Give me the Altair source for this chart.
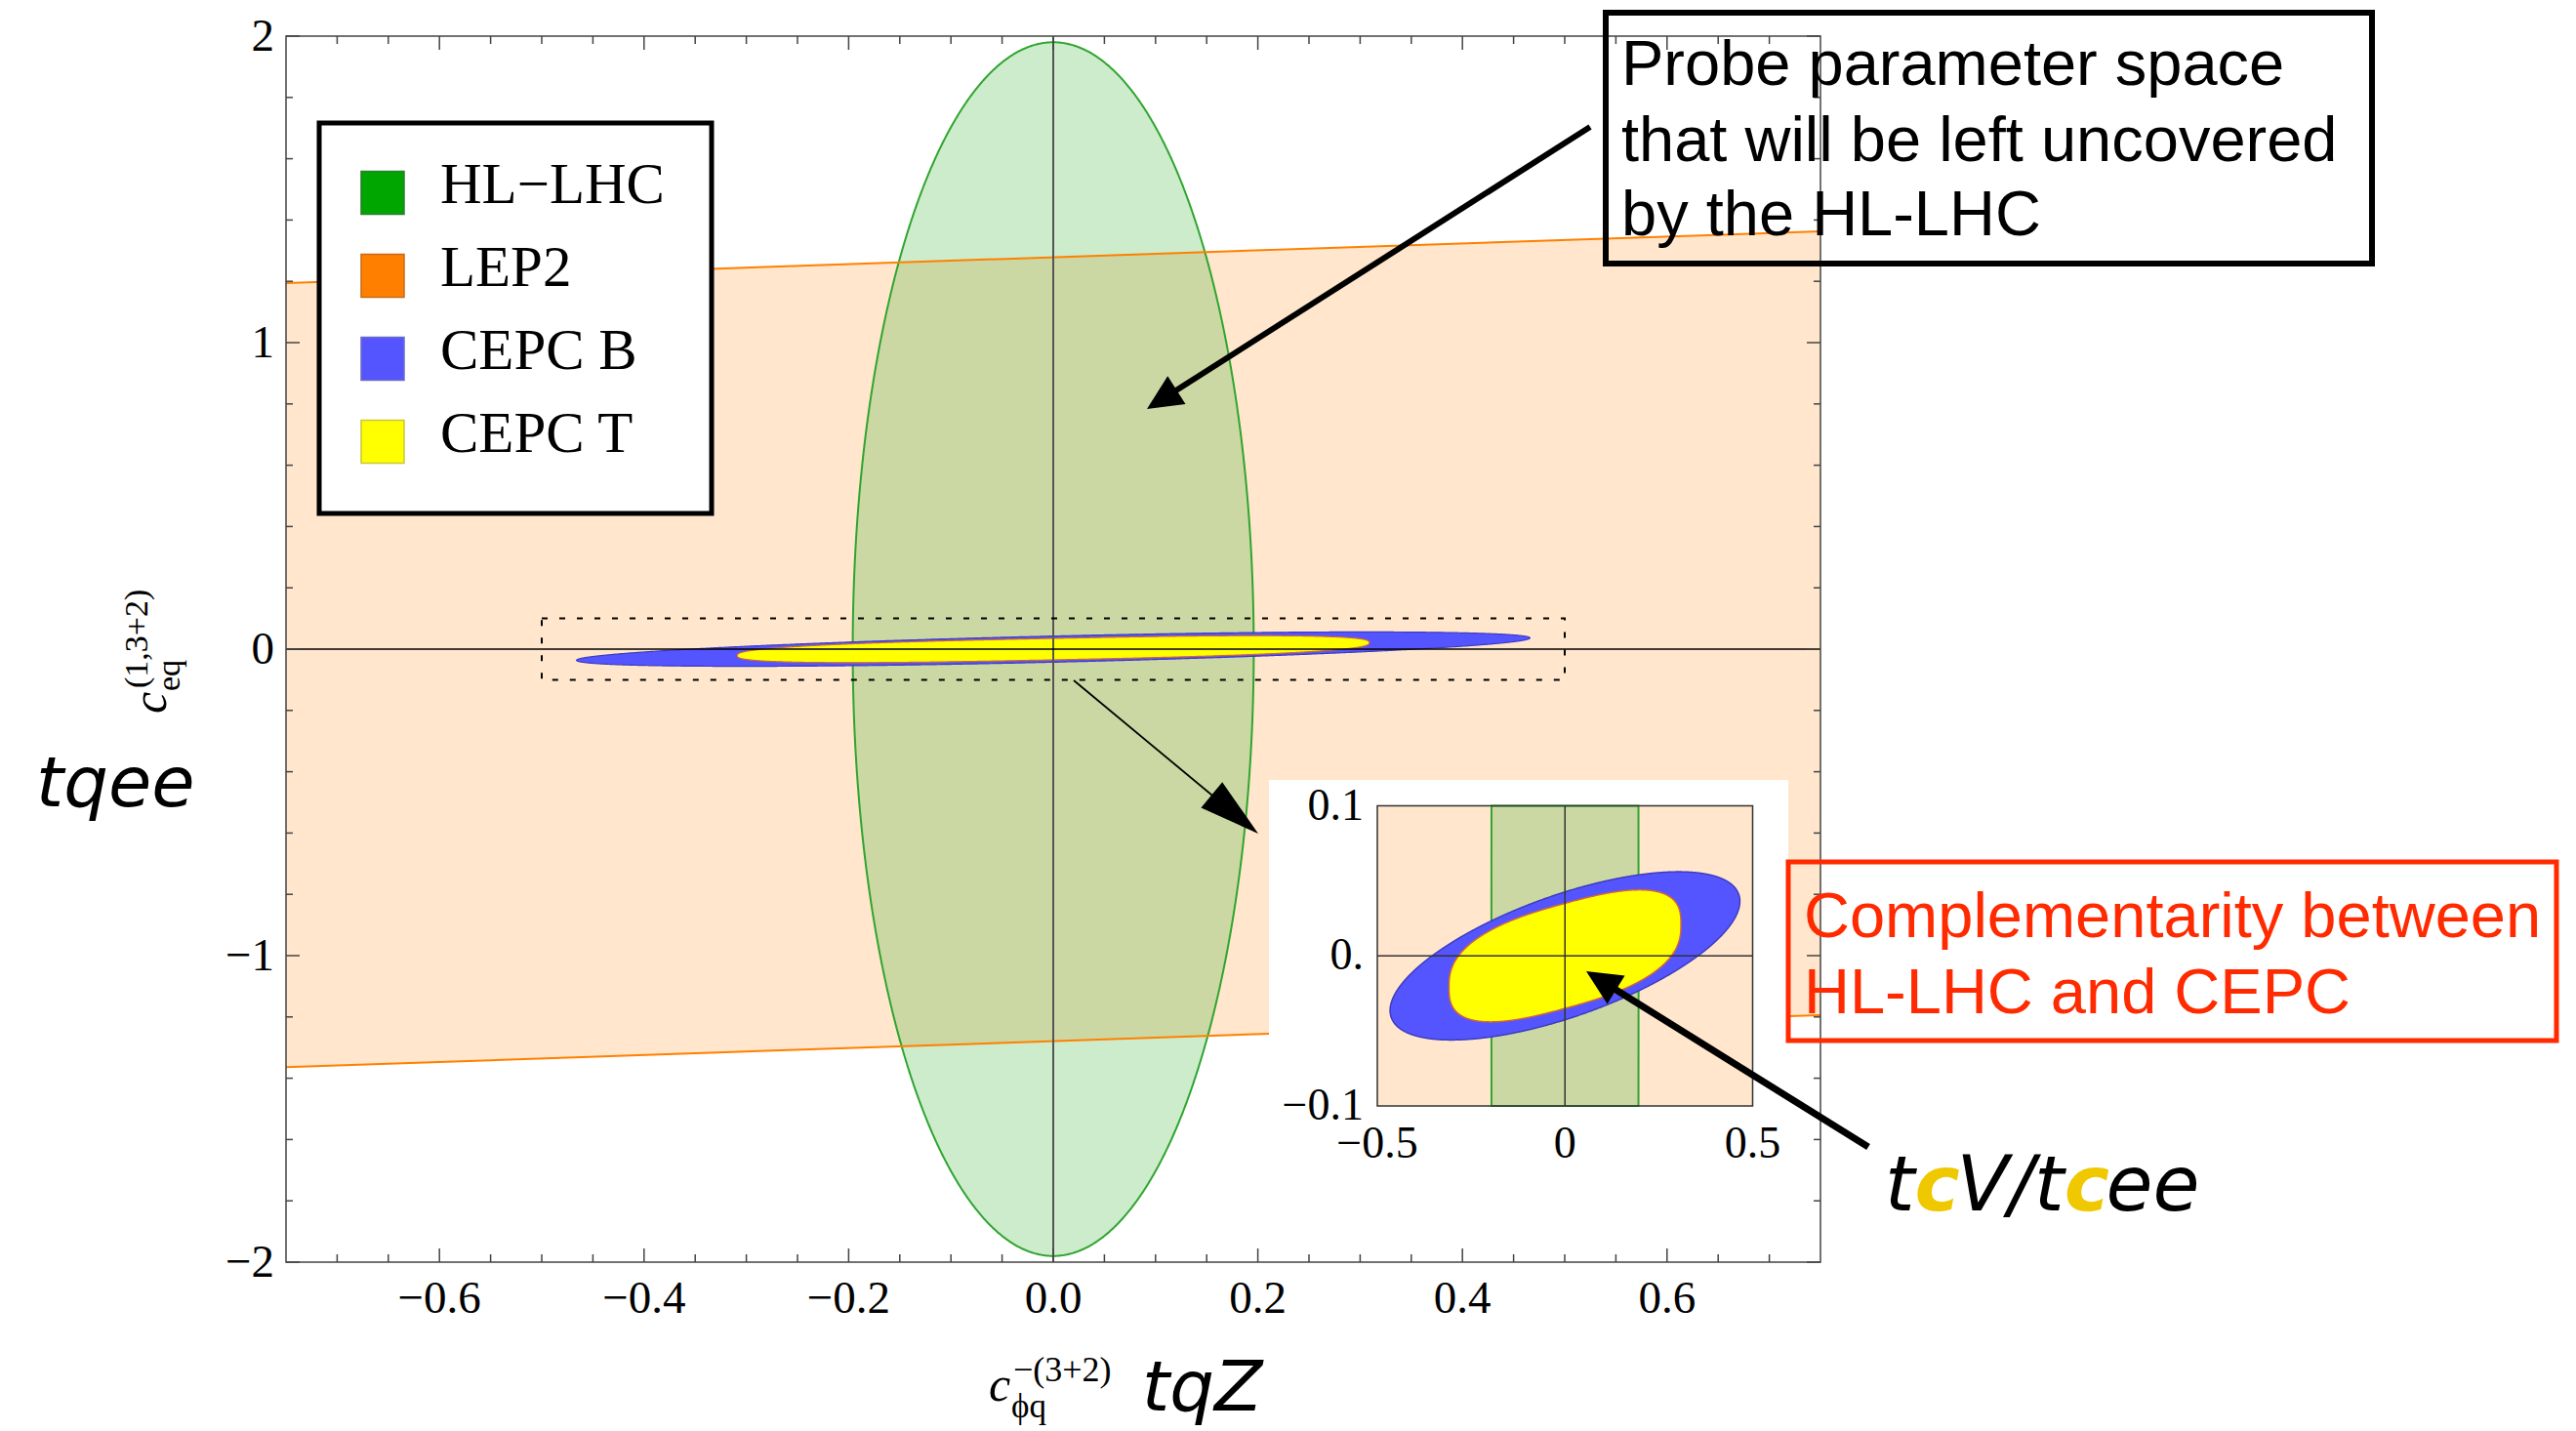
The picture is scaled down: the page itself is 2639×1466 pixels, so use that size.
import math
import altair as alt
import numpy as np
import pandas as pd

# ------------------------------------------------------------------
# Values
# ------------------------------------------------------------------
X_DOMAIN = [-0.75, 0.75]
Y_DOMAIN = [-2.0, 2.0]

x_major = [-0.6, -0.4, -0.2, 0.0, 0.2, 0.4, 0.6]
x_major_labels = ["−0.6", "−0.4", "−0.2", "0.0", "0.2", "0.4", "0.6"]
x_minor = [-0.7, -0.65, -0.55, -0.5, -0.45, -0.35, -0.3, -0.25, -0.15, -0.1, -0.05,
           0.05, 0.1, 0.15, 0.25, 0.3, 0.35, 0.45, 0.5, 0.55, 0.65, 0.7]
y_major = [-2, -1, 0, 1, 2]
y_major_labels = ["−2", "−1", "0", "1", "2"]
y_minor = [-1.8, -1.6, -1.4, -1.2, -0.8, -0.6, -0.4, -0.2,
           0.2, 0.4, 0.6, 0.8, 1.2, 1.4, 1.6, 1.8]

# LEP2 band: edges at the left/right frame
lep2_x = [-0.75, 0.75]
lep2_lower = [-1.364, -1.194]
lep2_upper = [1.194, 1.363]

# confidence regions: x half-extent a, y at x-extreme c, half-height d, shape power p
hl_lhc = {"a": 0.196, "c": 0.0, "d": 1.98, "p": 1.0}
cepc_b = {"a": 0.466, "c": 0.0364, "d": 0.0426, "p": 1.0}
cepc_t = {"a": 0.309, "c": 0.021, "d": 0.035, "p": 0.75}

# dashed zoom window
zoom_box = {"x0": -0.5, "x1": 0.5, "y0": -0.1, "y1": 0.1}

# inset axes
inset_x_ticks = [-0.5, 0.0, 0.5]
inset_x_labels = ["−0.5", "0", "0.5"]
inset_y_ticks = [0.1, 0.0, -0.1]
inset_y_labels = ["0.1", "0.", "−0.1"]

legend_labels = ["HL−LHC", "LEP2", "CEPC B", "CEPC T"]
legend_colors = ["#00a600", "#ff8000", "#5555ff", "#ffff00"]
legend_strokes = ["#2d7d2d", "#c86a14", "#6c6cc8", "#c8c83c"]

# ------------------------------------------------------------------
# Layout / style
# ------------------------------------------------------------------
W, H = 1572, 1256
PAD = {"left": 293, "top": 37, "right": 774, "bottom": 173}


def px(fx):
    return fx - PAD["left"]


def py(fy):
    return fy - PAD["top"]


SERIF = "Liberation Serif"
SANS = "Liberation Sans"
OBL = "DejaVu Sans"
FRAME = "#444444"
ORANGE = "#ff8000"
GREEN = "#00a000"
GREEN_EDGE = "#2fa52f"
BLUE = "#5555ff"
BLUE_EDGE = "#3c3cc0"
YELLOW = "#ffff00"
YELLOW_EDGE = "#d0663c"
GOLD = "#f0c800"
RED = "#ff2a00"

ONE = pd.DataFrame({"k": [0]})

xs_main = alt.Scale(domain=X_DOMAIN, nice=False, zero=False)
ys_main = alt.Scale(domain=Y_DOMAIN, nice=False, zero=False)
xs_in = alt.Scale(domain=[-0.5, 0.5], range=[px(1411), px(1795.5)],
                  clamp=True, nice=False, zero=False)
ys_in = alt.Scale(domain=[-0.1, 0.1], range=[py(1133), py(825.5)],
                  clamp=True, nice=False, zero=False)


def region(r, n=721):
    t = np.linspace(0.0, np.pi, n)
    ct, st = np.cos(t), np.sin(t)
    cu = np.sign(ct) * np.abs(ct) ** r["p"]
    su = np.abs(st) ** r["p"]
    return pd.DataFrame({"x": r["a"] * cu,
                         "lo": r["c"] * cu - r["d"] * su,
                         "hi": r["c"] * cu + r["d"] * su})


def area(df, xs, ys, **mk):
    return alt.Chart(df).mark_area(**mk).encode(
        x=alt.X("x:Q", scale=xs, axis=None),
        y=alt.Y("lo:Q", scale=ys, axis=None),
        y2="hi:Q")


def text_at(txt, x, y, size, font, color="black", style="normal",
            align="left", angle=0, baseline="alphabetic", weight="normal"):
    kw = dict(text=txt, font=font, fontSize=size, color=color, fontWeight=weight,
              fontStyle=style, align=align, baseline=baseline)
    if angle:
        kw["angle"] = angle
    return alt.Chart(ONE).mark_text(**kw).encode(x=alt.value(x), y=alt.value(y))


def box(x0, y0, x1, y1, stroke, sw, fill=None):
    mk = dict(stroke=stroke, strokeWidth=sw)
    if fill:
        mk["fill"] = fill
    else:
        mk["fillOpacity"] = 0
    return alt.Chart(ONE).mark_rect(**mk).encode(
        x=alt.value(x0), x2=alt.value(x1), y=alt.value(y0), y2=alt.value(y1))


def arrow(x1, y1, x2, y2, width, head_len, head_w):
    dx, dy = x2 - x1, y2 - y1
    dist = math.hypot(dx, dy)
    ux, uy = dx / dist, dy / dist
    ex, ey = x2 - ux * head_len * 0.8, y2 - uy * head_len * 0.8
    ang = math.degrees(math.atan2(dx, -dy)) % 360
    path = f"M0,0L{-head_w / 2:.2f},{head_len:.2f}L{head_w / 2:.2f},{head_len:.2f}Z"
    line = alt.Chart(ONE).mark_rule(color="black", strokeWidth=width, strokeCap="butt").encode(
        x=alt.value(x1), y=alt.value(y1), x2=alt.value(ex), y2=alt.value(ey))
    head = alt.Chart(ONE).mark_point(shape=path, size=4, filled=True, color="black",
                                     opacity=1, strokeWidth=0, angle=ang).encode(
        x=alt.value(x2), y=alt.value(y2))
    return [line, head]


# ------------------------------------------------------------------
# Main panel
# ------------------------------------------------------------------
lep2_df = pd.DataFrame({"x": lep2_x, "lo": lep2_lower, "hi": lep2_upper})
lep2_edges = pd.DataFrame({
    "x": lep2_x + lep2_x,
    "y": lep2_lower + lep2_upper,
    "edge": ["lower", "lower", "upper", "upper"]})
hl_df = region(hl_lhc)
b_df = region(cepc_b)
t_df = region(cepc_t)

main = []
main.append(area(lep2_df, xs_main, ys_main, fill=ORANGE, fillOpacity=0.2))
main.append(area(hl_df, xs_main, ys_main, fill=GREEN, fillOpacity=0.2,
                 stroke=GREEN_EDGE, strokeWidth=2))
main.append(alt.Chart(lep2_edges).mark_line(color=ORANGE, strokeWidth=2).encode(
    x=alt.X("x:Q", scale=xs_main, axis=None),
    y=alt.Y("y:Q", scale=ys_main, axis=None),
    detail="edge:N"))
main.append(area(b_df, xs_main, ys_main, fill=BLUE, stroke=BLUE_EDGE, strokeWidth=1.2))
main.append(area(t_df, xs_main, ys_main, fill=YELLOW, stroke=YELLOW_EDGE, strokeWidth=1.2))

# zero axes lines
main.append(alt.Chart(pd.DataFrame({"v": [0.0]})).mark_rule(color="#555555", strokeWidth=2).encode(
    x=alt.X("v:Q", scale=xs_main, axis=None), y=alt.value(0), y2=alt.value(H)))
main.append(alt.Chart(pd.DataFrame({"v": [0.0]})).mark_rule(color="black", strokeWidth=1.5).encode(
    y=alt.Y("v:Q", scale=ys_main, axis=None), x=alt.value(0), x2=alt.value(W)))

# dashed zoom window
main.append(alt.Chart(pd.DataFrame([zoom_box])).mark_rect(
    fillOpacity=0, stroke="black", strokeWidth=2, strokeDash=[6, 12]).encode(
    x=alt.X("x0:Q", scale=xs_main, axis=None), x2="x1:Q",
    y=alt.Y("y0:Q", scale=ys_main, axis=None), y2="y1:Q"))

# frame ticks (inward, all four sides)
for vals, ln in ((x_major, 14), (x_minor, 8)):
    d = pd.DataFrame({"v": vals})
    for ya, yb in ((H, H - ln), (0, ln)):
        main.append(alt.Chart(d).mark_rule(color=FRAME, strokeWidth=1.5).encode(
            x=alt.X("v:Q", scale=xs_main, axis=None), y=alt.value(ya), y2=alt.value(yb)))
for vals, ln in ((y_major, 14), (y_minor, 7)):
    d = pd.DataFrame({"v": vals})
    for xa, xb in ((0, ln), (W, W - ln)):
        main.append(alt.Chart(d).mark_rule(color=FRAME, strokeWidth=1.5).encode(
            y=alt.Y("v:Q", scale=ys_main, axis=None), x=alt.value(xa), x2=alt.value(xb)))

# frame
main.append(box(0, 0, W, H, FRAME, 1.5))

# tick labels
main.append(alt.Chart(pd.DataFrame({"v": x_major, "lab": x_major_labels})).mark_text(
    font=SERIF, fontSize=47, align="center", baseline="alphabetic", color="black").encode(
    x=alt.X("v:Q", scale=xs_main, axis=None), y=alt.value(py(1345)), text="lab:N"))
main.append(alt.Chart(pd.DataFrame({"v": y_major, "lab": y_major_labels})).mark_text(
    font=SERIF, fontSize=47, align="right", baseline="alphabetic", dy=15, color="black").encode(
    y=alt.Y("v:Q", scale=ys_main, axis=None), x=alt.value(px(281)), text="lab:N"))

# legend
main.append(box(px(327), py(126), px(729), py(526), "black", 5, fill="white"))
for i, (lab, col, sc) in enumerate(zip(legend_labels, legend_colors, legend_strokes)):
    cy = py(197.5) + 85 * i
    main.append(alt.Chart(ONE).mark_rect(color=col, stroke=sc, strokeWidth=1.5).encode(
        x=alt.value(px(370)), x2=alt.value(px(414)),
        y=alt.value(cy - 22), y2=alt.value(cy + 22)))
    main.append(text_at(lab, px(451), py(208) + 85 * i, 59, SERIF))

# white background of the inset
main.append(box(px(1300), py(799), px(1832), py(1195), "white", 0, fill="white"))

main_layer = alt.layer(*main)

# ------------------------------------------------------------------
# Inset (same data, zoomed scales)
# ------------------------------------------------------------------
ins = []
ins.append(area(lep2_df, xs_in, ys_in, fill=ORANGE, fillOpacity=0.2))
ins.append(area(hl_df, xs_in, ys_in, fill=GREEN, fillOpacity=0.2,
                stroke=GREEN_EDGE, strokeWidth=2))
ins.append(area(b_df, xs_in, ys_in, fill=BLUE, stroke=BLUE_EDGE, strokeWidth=1.5))
ins.append(area(t_df, xs_in, ys_in, fill=YELLOW, stroke=YELLOW_EDGE, strokeWidth=1.5))
ins.append(alt.Chart(pd.DataFrame({"v": [0.0], "a": [-0.1], "b": [0.1]})).mark_rule(
    color="#333333", strokeWidth=1.5).encode(
    x=alt.X("v:Q", scale=xs_in, axis=None),
    y=alt.Y("a:Q", scale=ys_in, axis=None), y2="b:Q"))
ins.append(alt.Chart(pd.DataFrame({"v": [0.0], "a": [-0.5], "b": [0.5]})).mark_rule(
    color="#333333", strokeWidth=1.5).encode(
    y=alt.Y("v:Q", scale=ys_in, axis=None),
    x=alt.X("a:Q", scale=xs_in, axis=None), x2="b:Q"))
ins.append(alt.Chart(pd.DataFrame([zoom_box])).mark_rect(
    fillOpacity=0, stroke="#333333", strokeWidth=1.5).encode(
    x=alt.X("x0:Q", scale=xs_in, axis=None), x2="x1:Q",
    y=alt.Y("y0:Q", scale=ys_in, axis=None), y2="y1:Q"))
ins.append(alt.Chart(pd.DataFrame({"v": inset_x_ticks, "lab": inset_x_labels})).mark_text(
    font=SERIF, fontSize=46, align="center", baseline="alphabetic", color="black").encode(
    x=alt.X("v:Q", scale=xs_in, axis=None), y=alt.value(py(1186)), text="lab:N"))
ins.append(alt.Chart(pd.DataFrame({"v": inset_y_ticks, "lab": inset_y_labels})).mark_text(
    font=SERIF, fontSize=46, align="right", baseline="alphabetic", dy=14, color="black").encode(
    y=alt.Y("v:Q", scale=ys_in, axis=None), x=alt.value(px(1397)), text="lab:N"))
inset_layer = alt.layer(*ins)

# ------------------------------------------------------------------
# Annotations
# ------------------------------------------------------------------
ov = []
ov += arrow(px(1100), py(697), px(1289), py(854), 1.8, 62, 34)
ov += arrow(px(1629), py(130), px(1175), py(419), 6, 36, 34)
ov += arrow(px(1914), py(1175), px(1625), py(995), 7, 36, 34)

# "Probe ..." box
ov.append(box(px(1645), py(13), px(2430), py(270), "black", 6))
for j, line in enumerate(["Probe parameter space",
                          "that will be left uncovered",
                          "by the HL-LHC"]):
    ov.append(text_at(line, px(1661), py([87, 165, 241][j]), 65, SANS))

# red complementarity box
ov.append(box(px(1832), py(883), px(2619), py(1066), RED, 5))
ov.append(text_at("Complementarity between", px(1848), py(960), 65, SANS, color=RED))
ov.append(text_at("HL-LHC and CEPC", px(1848), py(1038), 65, SANS, color=RED))

# tcV/tcee with coloured c
fs = 78
adv = {"t": 0.392, "c": 0.550, "V": 0.684, "/": 0.337, "e": 0.615}
x0 = px(1931)
for seg, col in (("t", "black"), ("c", GOLD), ("V/t", "black"), ("c", GOLD), ("ee", "black")):
    ov.append(text_at(seg, x0, py(1240), fs, OBL, color=col, style="italic",
                      weight="bold" if seg == "c" else "normal"))
    x0 += sum(adv[ch] for ch in seg) * fs

# process labels
ov.append(text_at("tqee", px(37), py(826), 72, OBL, style="italic"))
ov.append(text_at("tqZ", px(1170), py(1445), 72, OBL, style="italic"))

# x-axis title  c_{phi q}^{-(3+2)}
ov.append(text_at("c", px(1013), py(1435), 50, SERIF, style="italic"))
ov.append(text_at("ϕq", px(1036), py(1452), 35, SERIF))
ov.append(text_at("−(3+2)", px(1038), py(1415), 36, SERIF))

# y-axis title  c_{eq}^{(1,3+2)} (rotated)
ov.append(text_at("c", px(170), py(731), 50, SERIF, style="italic", angle=270))
ov.append(text_at("eq", px(184), py(708), 34, SERIF, angle=270))
ov.append(text_at("(1,3+2)", px(151), py(705), 34, SERIF, angle=270))

overlay_layer = alt.layer(*ov)

chart = alt.layer(main_layer, inset_layer, overlay_layer).resolve_scale(
    x="independent", y="independent"
).properties(
    width=W, height=H,
    padding=PAD,
    autosize=alt.AutoSizeParams(type="none"),
    background="white",
).configure_view(strokeWidth=0)

chart.save("out.html", embed_options={"renderer": "svg", "actions": False})
